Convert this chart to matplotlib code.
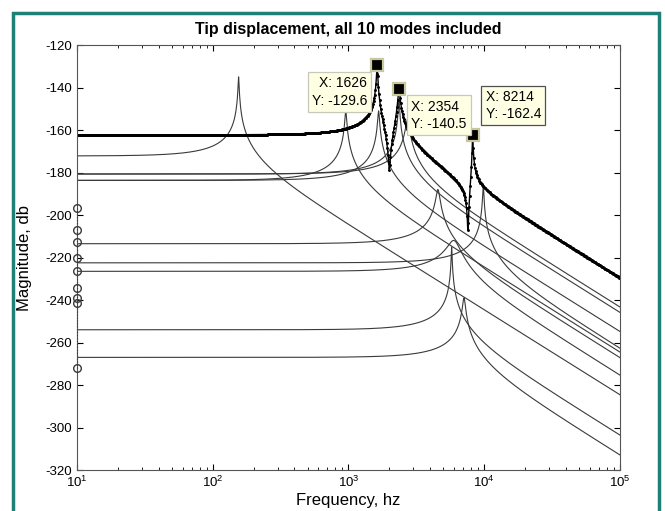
import numpy as np
import matplotlib
matplotlib.use("Agg")
import matplotlib.pyplot as plt
from matplotlib.patches import Rectangle


plt.rcParams["font.family"] = ["Liberation Sans", "DejaVu Sans"]
plt.rcParams["axes.unicode_minus"] = False

# overall tip response (thick dotted curve), modal parameters
TOTAL_FN = [1626, 2354, 8214]
TOTAL_DC_DB = [-166.1, -171.5, -202.4]
TOTAL_ZETA = [0.0075, 0.014, 0.005]

# the 10 individual mode curves
MODE_FN = [155, 955, 1667, 2354, 2723, 4560, 5754, 6000, 7096, 9840]
MODE_DC_DB = [-172.2, -183.7, -183.7, -180.7, -180.7, -213.5, -254.0, -226.5, -267.0, -222.5]
MODE_PEAK_DB = [-135.0, -151.0, -151.0, -146.0, -155.0, -188.0, -215.0, -212.0, -239.0, -186.0]

# circles drawn at 10 hz
CIRCLE_DB = [-196.5, -207.2, -212.5, -220.0, -226.4, -234.4, -238.9, -241.6, -272.0]

# data tips
TIP_X = [1626, 2354, 8214]
TIP_Y = [-129.6, -140.5, -162.4]


def sdof(freq, fn, dc_db, zeta):
    r = freq / fn
    return 10 ** (dc_db / 20) / (1 - r**2 + 2j * zeta * r)


def main() -> None:
    fig = plt.figure(figsize=(6.65, 5.11), dpi=100)
    ax = fig.add_axes([0.1158, 0.0802, 0.8165, 0.8317])

    # individual modes
    for fn, dc, pk in zip(MODE_FN, MODE_DC_DB, MODE_PEAK_DB):
        freq = np.sort(np.append(np.logspace(1, 5, 1200), fn))
        zeta = 0.5 * 10 ** ((dc - pk) / 20)
        mag = 20 * np.log10(np.abs(sdof(freq, fn, dc, zeta)))
        ax.plot(freq, mag, color="#3a3a3a", lw=0.8)

    # overall response
    freq = np.sort(np.concatenate([np.logspace(1, 5, 900), TOTAL_FN]))
    total = np.zeros_like(freq, dtype=complex)
    for fn, dc, z in zip(TOTAL_FN, TOTAL_DC_DB, TOTAL_ZETA):
        total += sdof(freq, fn, dc, z)
    ax.plot(freq, 20 * np.log10(np.abs(total)), color="black", lw=1.0,
            marker=".", markersize=2.2)

    ax.plot([10] * len(CIRCLE_DB), CIRCLE_DB, color="#3a3a3a", lw=0.8,
            ls=":", marker="o", markersize=5.5, markerfacecolor="none",
            clip_on=False, zorder=4)

    # data tips
    offsets = [(-10, -11, "right", "top", "#c8c8b8"),
               (12, -11, "left", "top", "#c8c8b8"),
               (13, 14, "left", "bottom", "#505050")]
    for x, y, (dx, dy, ha, va, ec) in zip(TIP_X, TIP_Y, offsets):
        ax.plot(x, y, marker="s", markersize=9, color="black",
                markeredgecolor="#c9c7a0", markeredgewidth=1.6, zorder=5)
        ax.annotate(f"X: {x}\nY: {y}", xy=(x, y), xytext=(dx, dy),
                    textcoords="offset pixels", ha=ha, va=va, fontsize=10,
                    linespacing=1.3, zorder=6,
                    bbox=dict(boxstyle="square,pad=0.3", fc="#ffffe4", ec=ec, lw=0.9))

    ax.set_xscale("log")
    ax.set_xlim(10, 1e5)
    ax.set_ylim(-320, -120)
    ax.set_yticks(np.arange(-320, -119, 20))
    ax.tick_params(which="both", direction="in", top=True, right=True, labelsize=9.5)
    ax.tick_params(which="major", length=4)
    ax.tick_params(which="minor", length=2.5)
    for s in ax.spines.values():
        s.set_color("#555555")
        s.set_linewidth(0.8)

    ax.set_title("Tip displacement, all 10 modes included", fontsize=11.5,
                 fontweight="bold", pad=8)
    ax.set_xlabel("Frequency, hz", fontsize=12, labelpad=2)
    ax.set_ylabel("Magnitude, db", fontsize=12, labelpad=10)

    fig.patches.append(Rectangle((0.0195, -0.02), 0.9715, 0.995,
                                 transform=fig.transFigure, fill=False,
                                 edgecolor="#1f8078", lw=2.5))

    fig.savefig("out.png", dpi=100)
    plt.close(fig)


if __name__ == "__main__":
    main()
